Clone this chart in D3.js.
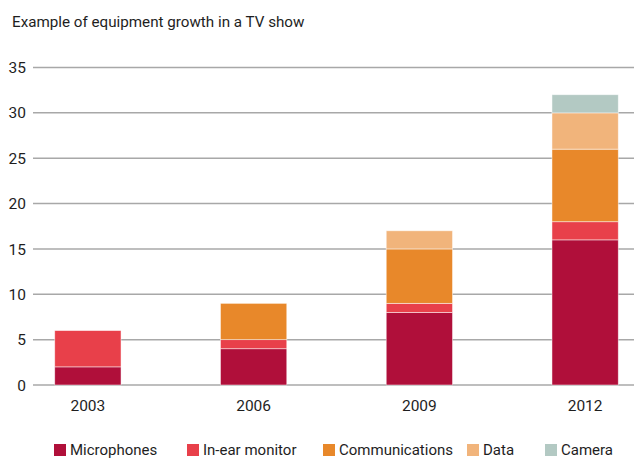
<!DOCTYPE html>
<html lang="en">
<head>
<meta charset="UTF-8">
<title>Equipment growth</title>
<script src="https://d3js.org/d3.v7.min.js"></script>
<style>
  body { margin: 0; background: #fff; }
  svg { display: block; font-family: Roboto, "Open Sans", sans-serif; }
  .tick-label { fill: #1e1e1e; font-size: 15.5px; }
  .legend-label { fill: #1e1e1e; font-size: 15px; }
</style>
</head>
<body>
<div id="chart"></div>
<script>
// data
const years = ["2003", "2006", "2009", "2012"];
const seriesNames = ["Microphones", "In-ear monitor", "Communications", "Data", "Camera"];
const microphones = [2, 4, 8, 16];
const inEar = [4, 1, 1, 2];
const communications = [0, 4, 6, 8];
const dataLinks = [0, 0, 2, 4];
const camera = [0, 0, 0, 2];
const yTicks = [0, 5, 10, 15, 20, 25, 30, 35];
const colors = ["#b00f3a", "#e8404a", "#e8882a", "#f1b47b", "#b3c9c3"];

const width = 634, height = 461;
const svg = d3.select("#chart").append("svg")
  .attr("width", width).attr("height", height);

const rows = years.map((y, i) => ({
  year: y,
  "Microphones": microphones[i],
  "In-ear monitor": inEar[i],
  "Communications": communications[i],
  "Data": dataLinks[i],
  "Camera": camera[i]
}));
const stack = d3.stack().keys(seriesNames)(rows);

const x = d3.scaleBand()
  .domain(years)
  .range([5, 668])
  .paddingInner(0.6)
  .paddingOuter(0.3);

const y = d3.scaleLinear()
  .domain([0, 35])
  .range([385, 67.5]);

const color = d3.scaleOrdinal().domain(seriesNames).range(colors);

// title
svg.append("text")
  .attr("x", 12).attr("y", 27)
  .attr("fill", "#1e1e1e")
  .style("font-size", "15.2px")
  .text("Example of equipment growth in a TV show");

// gridlines + y labels
const yAxis = svg.append("g");
yAxis.selectAll("line").data(yTicks).enter().append("line")
  .attr("x1", 33).attr("x2", width)
  .attr("y1", d => y(d)).attr("y2", d => y(d))
  .attr("stroke", "#a8a8a8").attr("stroke-width", 1.5);
yAxis.selectAll("text").data(yTicks).enter().append("text")
  .attr("class", "tick-label")
  .attr("x", 26).attr("y", d => y(d))
  .attr("dy", "0.36em")
  .attr("text-anchor", "end")
  .text(d => d);

// bars
svg.append("g").selectAll("g")
  .data(stack).enter().append("g")
  .attr("fill", d => color(d.key))
  .selectAll("rect")
  .data(d => d.filter(s => s[1] > s[0]))
  .enter().append("rect")
  .attr("x", d => x(d.data.year))
  .attr("width", x.bandwidth())
  .attr("y", d => y(d[1]))
  .attr("height", d => y(d[0]) - y(d[1]))
  .attr("stroke", "rgba(255,255,255,0.6)")
  .attr("stroke-width", 0.8);

// x labels
svg.append("g").selectAll("text")
  .data(years).enter().append("text")
  .attr("class", "tick-label")
  .attr("x", d => x(d) + x.bandwidth() / 2)
  .attr("y", 411)
  .attr("text-anchor", "middle")
  .text(d => d);

// legend
const legendX = [54, 187, 323, 467, 545];
const legend = svg.append("g").selectAll("g")
  .data(seriesNames).enter().append("g")
  .attr("transform", (d, i) => `translate(${legendX[i]},444)`);
legend.append("rect")
  .attr("width", 12).attr("height", 12)
  .attr("fill", d => color(d));
legend.append("text")
  .attr("class", "legend-label")
  .attr("x", 16).attr("y", 6)
  .attr("dy", "0.36em")
  .text(d => d);
</script>
</body>
</html>
